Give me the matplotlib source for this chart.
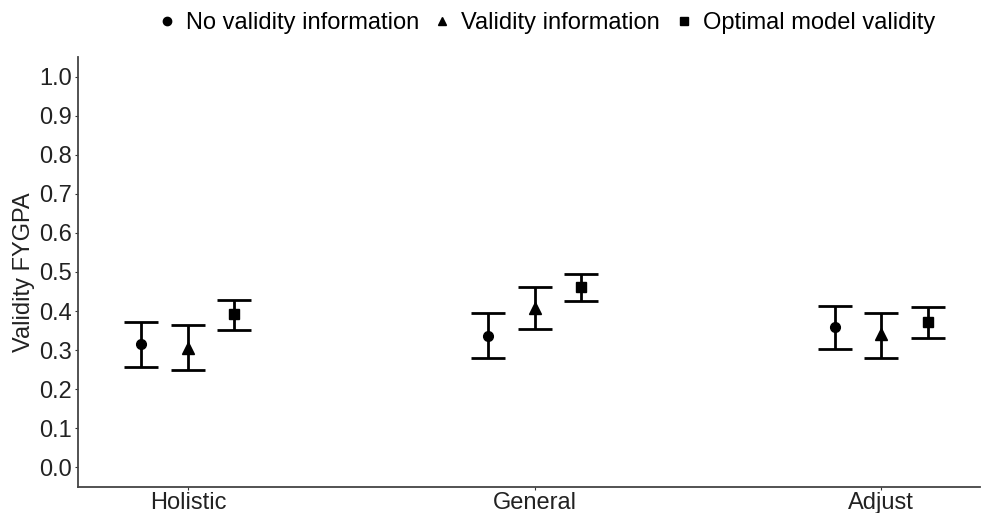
import numpy as np
import matplotlib
matplotlib.use("Agg")
import matplotlib.pyplot as plt
from matplotlib.lines import Line2D

plt.rcParams['font.family'] = ['Liberation Sans', 'DejaVu Sans']

categories = ['Holistic', 'General', 'Adjust']
conditions = ['No validity information', 'Validity information', 'Optimal model validity']
markers = ['o', '^', 's']

est = {
    'No validity information': [0.316, 0.337, 0.360],
    'Validity information':    [0.306, 0.409, 0.341],
    'Optimal model validity':  [0.392, 0.462, 0.371],
}
lower = {
    'No validity information': [0.256, 0.280, 0.303],
    'Validity information':    [0.249, 0.355, 0.280],
    'Optimal model validity':  [0.352, 0.426, 0.331],
}
upper = {
    'No validity information': [0.371, 0.394, 0.413],
    'Validity information':    [0.365, 0.462, 0.394],
    'Optimal model validity':  [0.429, 0.496, 0.411],
}

fig = plt.figure(figsize=(9.81, 5.13), dpi=100)
ax = fig.add_axes([78/981, 26/513, 902/981, 430/513])

x = np.arange(1, len(categories) + 1)
offsets = [-0.134, 0.0, 0.134]
for cond, m, off in zip(conditions, markers, offsets):
    y = np.array(est[cond])
    lo = y - np.array(lower[cond])
    hi = np.array(upper[cond]) - y
    ms = 8 if m == '^' else 7
    ax.errorbar(x + off, y, yerr=[lo, hi], fmt=m, color='black', ms=ms,
                elinewidth=2, capsize=12.3, capthick=2)

ax.set_xlim(0.683, 3.285)
ax.set_ylim(-0.05, 1.05)
ax.set_xticks(x)
ax.set_xticklabels(categories)
ax.set_yticks(np.arange(0, 1.01, 0.1))
ax.set_yticklabels(['%.1f' % v for v in np.arange(0, 1.01, 0.1)])
ax.tick_params(axis='both', labelsize=17, color='#333333', length=2.5,
               labelcolor='#222222', pad=2)
ax.tick_params(axis='x', pad=1)
for s in ['top', 'right']:
    ax.spines[s].set_visible(False)
for s in ['left', 'bottom']:
    ax.spines[s].set_color('#444444')
    ax.spines[s].set_linewidth(1.3)
ax.set_ylabel('Validity FYGPA', fontsize=17, color='#222222', labelpad=3)

handles = [Line2D([], [], marker=m, color='black', linestyle='none', markersize=6)
           for m in markers]
fig.legend(handles, conditions, loc='center', bbox_to_anchor=(546/981, 1 - 23/513),
           ncol=3, frameon=False, fontsize=17, handlelength=0.8,
           handletextpad=0.4, columnspacing=0.6)

fig.savefig('out.png', dpi=100)
